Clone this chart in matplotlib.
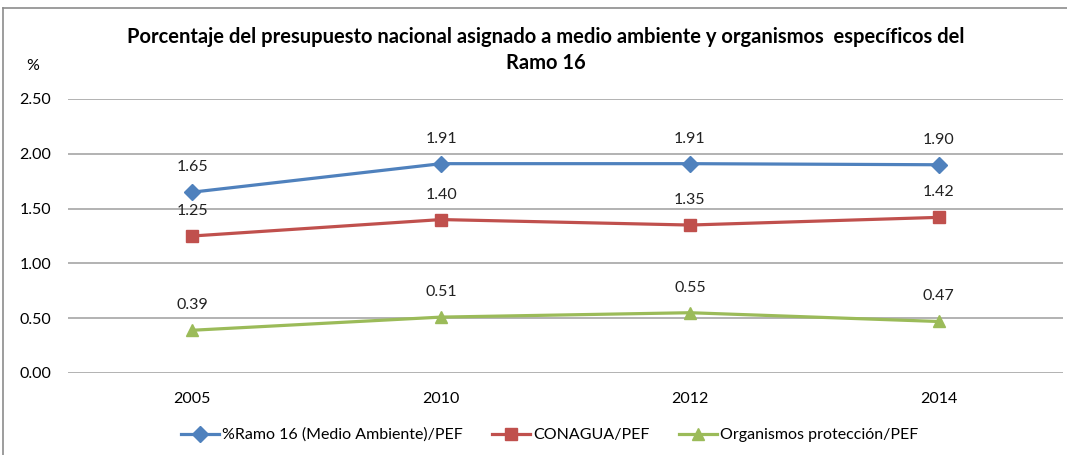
import matplotlib.pyplot as plt
from matplotlib.lines import Line2D

plt.rcParams["font.family"] = ["Lato", "DejaVu Sans"]

years = ["2005", "2010", "2012", "2014"]
ramo16 = [1.65, 1.91, 1.91, 1.90]
conagua = [1.25, 1.40, 1.35, 1.42]
organismos = [0.39, 0.51, 0.55, 0.47]

series = [
    ("%Ramo 16 (Medio Ambiente)/PEF", ramo16, "#4F81BD", "D", 8),
    ("CONAGUA/PEF", conagua, "#C0504D", "s", 9),
    ("Organismos protección/PEF", organismos, "#9BBB59", "^", 9),
]

fig = plt.figure(figsize=(10.67, 4.55), dpi=100)
ax = fig.add_axes([68 / 1067, 1 - 373 / 455, 995 / 1067, 274 / 455])

x = range(len(years))
for label, vals, color, marker, ms in series:
    ax.plot(x, vals, color=color, lw=2.3, marker=marker, ms=ms, label=label)
    for xi, v in zip(x, vals):
        ax.annotate(f"{v:.2f}", (xi, v), xytext=(0, 18), textcoords="offset points",
                    ha="center", va="center", fontsize=11.5, color="#222222")

ax.set_xlim(-0.5, 3.5)
ax.set_ylim(0, 2.5)
ax.set_xticks(list(x))
ax.set_xticklabels(years, fontsize=11.5)
ax.set_yticks([0, 0.5, 1.0, 1.5, 2.0, 2.5])
ax.set_yticklabels([f"{t:.2f}" for t in ax.get_yticks()], fontsize=11.5)
ax.tick_params(length=0, pad=12)
ax.tick_params(axis="x", pad=14)
ax.grid(axis="y", color="#A6A6A6", lw=1.2)
ax.set_axisbelow(True)
for s in ax.spines.values():
    s.set_visible(False)

fig.text(546 / 1067, 1 - 50 / 455,
         "Porcentaje del presupuesto nacional asignado a medio ambiente y organismos  específicos del\nRamo 16",
         ha="center", va="center", fontsize=14.5, fontweight="bold", linespacing=1.35)
fig.text(33 / 1067, 1 - 66 / 455, "%", ha="center", va="center", fontsize=11.5)

ax.legend(loc="center", bbox_to_anchor=(0.484, -0.226), ncol=3, frameon=False,
          fontsize=11.5, handlelength=2.4, columnspacing=1.8, handletextpad=0.2)

# chart border (left and top only visible)
fig.add_artist(Line2D([3 / 1067, 3 / 1067], [0, 1 - 8 / 455], color="#8C8C8C", lw=1.2))
fig.add_artist(Line2D([3 / 1067, 1], [1 - 8 / 455, 1 - 8 / 455], color="#8C8C8C", lw=1.2))

fig.savefig("out.png", dpi=100)
